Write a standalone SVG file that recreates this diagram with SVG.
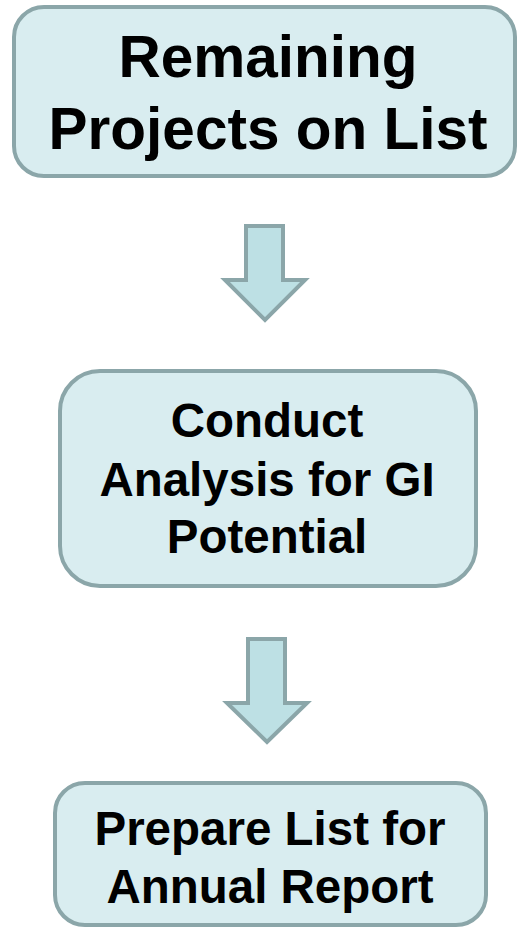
<svg xmlns="http://www.w3.org/2000/svg" width="518" height="930" viewBox="0 0 518 930">
  <style>
    .box { fill: #d9edf0; stroke: #8ba6a9; stroke-width: 4; }
    .arrow { fill: #bde0e4; stroke: #8ba6a9; stroke-width: 4; stroke-linejoin: miter; }
    .label { font-family: "Liberation Sans", Arial, sans-serif; font-weight: bold; fill: #000; text-anchor: middle; }
    .big { font-size: 58.5px; }
    .mid { font-size: 47.5px; }
  </style>
  <rect width="518" height="930" fill="#ffffff"/>

  <g id="remaining-projects">
    <rect class="box" x="14" y="7" width="501" height="169" rx="30" ry="30"/>
    <text class="label big" x="268" y="77">Remaining</text>
    <text class="label big" x="268" y="149">Projects on List</text>
  </g>

  <g id="conduct-analysis">
    <rect class="box" x="60" y="371" width="416" height="215" rx="40" ry="40"/>
    <text class="label mid" x="267" y="437">Conduct</text>
    <text class="label mid" x="267" y="496">Analysis for GI</text>
    <text class="label mid" x="267" y="553">Potential</text>
  </g>

  <g id="prepare-list">
    <rect class="box" x="55" y="783" width="431" height="142" rx="30" ry="30"/>
    <text class="label mid" x="270" y="845">Prepare List for</text>
    <text class="label mid" x="270" y="903">Annual Report</text>
  </g>

  <g id="connectors">
    <path class="arrow" d="M246,226 H283 V280 H305 L265,320 L225,280 H246 Z"/>
    <path class="arrow" d="M248,639 H285 V703 H307 L267,742 L227,703 H248 Z"/>
  </g>
</svg>
